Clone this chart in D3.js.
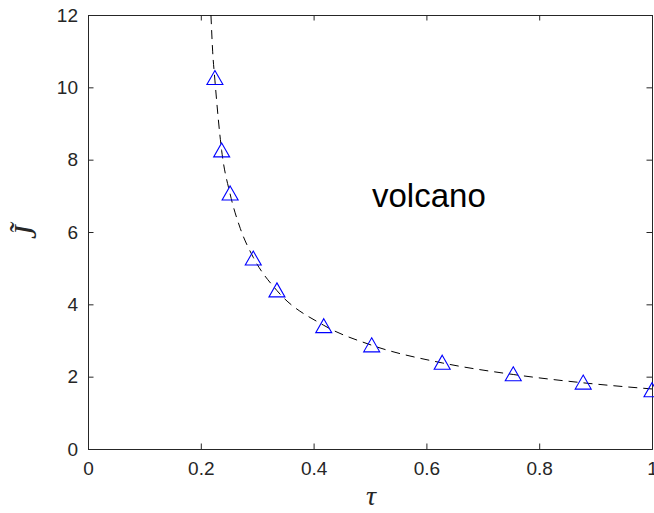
<!DOCTYPE html>
<html lang="en">
<head>
<meta charset="utf-8">
<title>volcano</title>
<script src="https://cdn.jsdelivr.net/npm/d3@7"></script>
<style>
  body { margin: 0; background: #fff; }
  svg { display: block; }
</style>
</head>
<body>
<script>
// data
var tau = [0.225, 0.237, 0.252, 0.293, 0.335, 0.418, 0.503, 0.628, 0.754, 0.878, 1.0];
var jt  = [10.27, 8.27, 7.08, 5.28, 4.40, 3.41, 2.88, 2.40, 2.08, 1.85, 1.64];

// dashed guide curve
var curveTau = [0.218, 0.221, 0.225, 0.237, 0.252, 0.27, 0.293, 0.335, 0.418, 0.503, 0.628, 0.754, 0.878, 1.0];
var curveJ   = [12.0, 11.0, 10.2, 8.25, 7.05, 6.1, 5.3, 4.38, 3.42, 2.87, 2.38, 2.06, 1.83, 1.66];

var xTicks = [0, 0.2, 0.4, 0.6, 0.8, 1];
var yTicks = [0, 2, 4, 6, 8, 10, 12];

var w = 654, h = 513;
var plotLeft = 88, plotRight = 652, plotTop = 15, plotBottom = 449;
var axisColor = "#262626";

var svg = d3.select("body").append("svg")
  .attr("width", w)
  .attr("height", h);

var x = d3.scaleLinear().domain([0, 1]).range([plotLeft, plotRight]);
var y = d3.scaleLinear().domain([0, 12]).range([plotBottom, plotTop]);

svg.append("clipPath").attr("id", "plotclip")
  .append("rect")
  .attr("x", plotLeft).attr("y", plotTop)
  .attr("width", plotRight - plotLeft).attr("height", plotBottom - plotTop);

// axes, ticks pointing inward, box on all four sides
var tickLen = 5.5;
var xAxis = d3.axisBottom(x).tickValues(xTicks).tickSize(-tickLen).tickPadding(13)
  .tickFormat(function(d) { return d3.format("")(d); });
var yAxis = d3.axisLeft(y).tickValues(yTicks).tickSize(-tickLen).tickPadding(10);

var gx = svg.append("g").attr("transform", "translate(0," + plotBottom + ")").call(xAxis);
var gy = svg.append("g").attr("transform", "translate(" + plotLeft + ",0)").call(yAxis);
var gxTop = svg.append("g").attr("transform", "translate(0," + plotTop + ")")
  .call(d3.axisTop(x).tickValues(xTicks).tickSize(-tickLen).tickFormat(""));
var gyRight = svg.append("g").attr("transform", "translate(" + plotRight + ",0)")
  .call(d3.axisRight(y).tickValues(yTicks).tickSize(-tickLen).tickFormat(""));

[gx, gy, gxTop, gyRight].forEach(function(g) {
  g.select(".domain").attr("stroke", axisColor).attr("stroke-width", 1);
  g.selectAll(".tick line").attr("stroke", axisColor).attr("stroke-width", 1);
  g.selectAll(".tick text")
    .attr("fill", axisColor)
    .attr("font-family", "Liberation Sans, Arial, Helvetica, sans-serif")
    .attr("font-size", "19px");
});

// dashed curve
var line = d3.line()
  .x(function(d) { return x(d[0]); })
  .y(function(d) { return y(d[1]); })
  .curve(d3.curveMonotoneX);

svg.append("path")
  .datum(d3.zip(curveTau, curveJ))
  .attr("clip-path", "url(#plotclip)")
  .attr("d", line)
  .attr("fill", "none")
  .attr("stroke", "#000")
  .attr("stroke-width", 1)
  .attr("stroke-dasharray", "9,6");

// triangle markers
svg.selectAll("path.marker")
  .data(d3.zip(tau, jt))
  .enter()
  .append("path")
  .attr("class", "marker")
  .attr("d", "M0,-7L8,7L-8,7Z")
  .attr("transform", function(d) { return "translate(" + x(d[0]) + "," + y(d[1]) + ")"; })
  .attr("fill", "none")
  .attr("stroke", "#0000ff")
  .attr("stroke-width", 1.1);

// annotation
svg.append("text")
  .attr("x", 372)
  .attr("y", 207)
  .attr("font-family", "Liberation Sans, Arial, Helvetica, sans-serif")
  .attr("font-size", "33px")
  .attr("fill", "#000")
  .text("volcano");

// axis labels
svg.append("text")
  .attr("x", 371)
  .attr("y", 505)
  .attr("text-anchor", "middle")
  .attr("font-family", "Liberation Serif, Times New Roman, serif")
  .attr("font-style", "italic")
  .attr("font-size", "28px")
  .attr("fill", axisColor)
  .text("τ");

svg.append("text")
  .attr("transform", "translate(36," + (plotTop + plotBottom) / 2 + ") rotate(-90)")
  .attr("text-anchor", "middle")
  .attr("font-family", "Liberation Serif, Times New Roman, serif")
  .attr("font-style", "italic")
  .attr("font-size", "31px")
  .attr("fill", axisColor)
  .text("J\u0303");
</script>
</body>
</html>
